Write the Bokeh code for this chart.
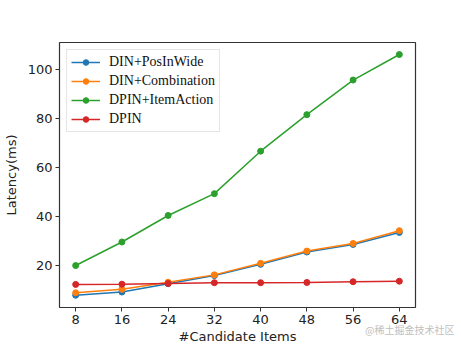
from bokeh.plotting import figure
from bokeh.models import Legend, LegendItem, Range1d, FixedTicker, Label
from bokeh.embed import file_html
from bokeh.resources import INLINE

x = [8, 16, 24, 32, 40, 48, 56, 64]
din_pos = [7.8, 9.1, 12.5, 15.8, 20.4, 25.4, 28.5, 33.4]
din_comb = [8.8, 10.2, 13.1, 16.1, 20.8, 25.8, 28.9, 34.1]
dpin_item = [19.9, 29.5, 40.3, 49.2, 66.5, 81.4, 95.5, 105.9]
dpin = [12.2, 12.3, 12.6, 12.9, 12.9, 13.0, 13.3, 13.5]
series_names = ["DIN+PosInWide", "DIN+Combination", "DPIN+ItemAction", "DPIN"]
colors = ["#1f77b4", "#ff7f0e", "#2ca02c", "#d62728"]
y_ticks = [20, 40, 60, 80, 100]

p = figure(width=461, height=346, output_backend="svg", toolbar_location=None,
           x_range=Range1d(5.2, 66.8), y_range=Range1d(2.8, 110.8),
           min_border_left=57, min_border_right=46, min_border_top=42, min_border_bottom=39)
p.xgrid.visible = False
p.ygrid.visible = False
p.outline_line_color = "#333333"
p.outline_line_width = 1.2
p.background_fill_color = "white"
p.border_fill_color = "white"

for ax in (p.xaxis, p.yaxis):
    ax.axis_line_color = None
    ax.major_tick_line_color = "#333333"
    ax.major_tick_out = 4
    ax.major_tick_in = 0
    ax.minor_tick_line_color = None
    ax.major_label_text_font = "DejaVu Sans"
    ax.major_label_text_font_size = "13px"
    ax.major_label_text_color = "#222222"
    ax.axis_label_text_font = "DejaVu Sans"
    ax.axis_label_text_font_size = "13px"
    ax.axis_label_text_font_style = "normal"
    ax.axis_label_text_color = "#222222"

p.xaxis.ticker = FixedTicker(ticks=x)
p.yaxis.ticker = FixedTicker(ticks=y_ticks)
p.xaxis.axis_label = "#Candidate Items"
p.yaxis.axis_label = "Latency(ms)"
p.xaxis.major_label_standoff = 3
p.xaxis.axis_label_standoff = 2
p.yaxis.major_label_standoff = 3
p.yaxis.axis_label_standoff = 6

items = []
for name, ys, c in zip(series_names, [din_pos, din_comb, dpin_item, dpin], colors):
    l = p.line(x, ys, line_color=c, line_width=1.5)
    s = p.scatter(x, ys, size=6, fill_color=c, line_color=c)
    items.append(LegendItem(label=name, renderers=[l, s]))

legend = Legend(items=items, location="top_left")
legend.label_text_font = "Liberation Serif"
legend.label_text_font_size = "14px"
legend.label_text_color = "#111111"
legend.border_line_color = "#cccccc"
legend.border_line_width = 1
legend.background_fill_alpha = 0.8
legend.glyph_width = 29
legend.glyph_height = 14
legend.spacing = 3
legend.label_standoff = 9
legend.padding = 4
legend.margin = 7
legend.label_height = 14
p.add_layout(legend)

wm = Label(x=395, y=-294, x_units="screen", y_units="screen", text="@稀土掘金技术社区",
           text_font="Noto Sans CJK SC", text_font_size="10px", text_color="#c0c0c0",
           text_align="right")
p.add_layout(wm, "above")

open("out.html", "w").write(file_html(p, INLINE))
